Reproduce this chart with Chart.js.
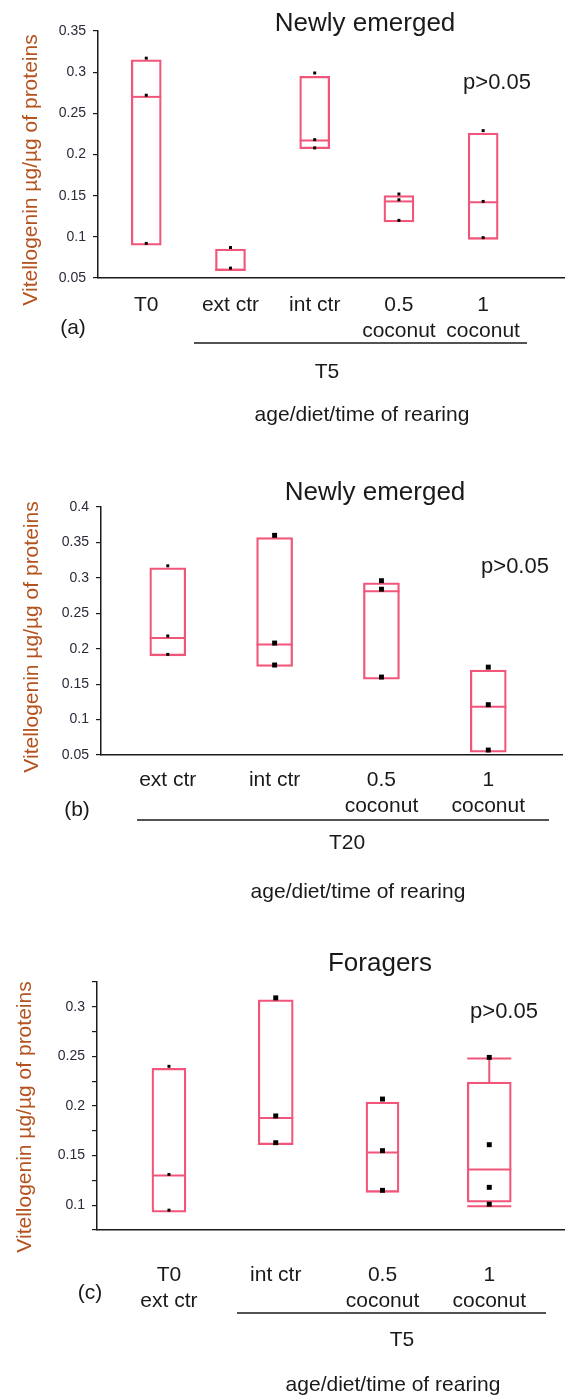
<!DOCTYPE html>
<html>
<head>
<meta charset="utf-8">
<script src="https://cdn.jsdelivr.net/npm/chart.js@4.4.0/dist/chart.umd.min.js"></script>
<style>
  body { margin: 0; background: #fff; }
  canvas { display: block; }
</style>
</head>
<body>
<canvas id="chartA" width="568" height="460"></canvas>
<canvas id="chartB" width="568" height="470"></canvas>
<canvas id="chartC" width="568" height="466"></canvas>
<script>
// ---- panel (a): newly emerged, T0 / T5 ----
const catsA = ['T0', 'ext ctr', 'int ctr', ['0.5', 'coconut'], ['1', 'coconut']];
const lowA = [0.090, 0.059, 0.207, 0.118, 0.097];
const highA = [0.315, 0.085, 0.295, 0.150, 0.226];
const medA = [0.270, 0.060, 0.217, 0.143, 0.142];
const ptsA = [[0.317, 0.272, 0.092], [0.087, 0.062], [0.299, 0.218, 0.208], [0.152, 0.145, 0.120], [0.229, 0.143, 0.099]];
const yTicksA = [0.05, 0.1, 0.15, 0.2, 0.25, 0.3, 0.35];
const yLabelsA = ['0.05', '0.1', '0.15', '0.2', '0.25', '0.3', '0.35'];

// ---- panel (b): newly emerged, T20 ----
const catsB = ['ext ctr', 'int ctr', ['0.5', 'coconut'], ['1', 'coconut']];
const lowB = [0.190, 0.175, 0.157, 0.054];
const highB = [0.314, 0.357, 0.293, 0.170];
const medB = [0.215, 0.206, 0.281, 0.118];
const ptsB = [[0.317, 0.218, 0.192], [0.360, 0.208, 0.177], [0.296, 0.284, 0.160], [0.174, 0.121, 0.057]];
const yTicksB = [0.05, 0.1, 0.15, 0.2, 0.25, 0.3, 0.35, 0.4];
const yLabelsB = ['0.05', '0.1', '0.15', '0.2', '0.25', '0.3', '0.35', '0.4'];

// ---- panel (c): foragers ----
const catsC = [['T0', 'ext ctr'], 'int ctr', ['0.5', 'coconut'], ['1', 'coconut']];
const lowC = [0.093, 0.161, 0.113, 0.103];
const highC = [0.238, 0.307, 0.204, 0.224];
const medC = [0.130, 0.188, 0.153, 0.136];
const whiskHiC = [null, null, null, 0.248];
const whiskLoC = [null, null, null, 0.099];
const ptsC = [[0.240, 0.131, 0.095], [0.309, 0.190, 0.163], [0.207, 0.155, 0.115], [0.249, 0.161, 0.118, 0.101]];
const yTicksC = [0.075, 0.1, 0.125, 0.15, 0.175, 0.2, 0.225, 0.25, 0.275, 0.3, 0.325];
const yLabelsC = ['', '0.1', '', '0.15', '', '0.2', '', '0.25', '', '0.3', ''];

const FONT = '"Liberation Sans", Arial, sans-serif';
const INK = '#1a1a1a';
const BOX_RED = '#f2557a';
const TITLE_BROWN = '#b4531f';
const Y_TITLE = 'Vitellogenin \u00b5g/\u00b5g of proteins';

function makePanel(id, p) {
    const n = p.labels.length;
    const datasets = [];

    // raw values as black squares
    const pts = [];
    p.points.forEach((vals, i) => vals.forEach(v => pts.push({ x: i + 1, y: v })));
    datasets.push({
        type: 'scatter',
        data: pts,
        order: 0,
        backgroundColor: '#000',
        borderWidth: 0,
        pointStyle: 'rect',
        pointRadius: ctx => ctx.raw ? p.pointR[ctx.raw.x - 1] : 3
    });

    // one box per group (floating bar from low to high)
    for (let i = 0; i < n; i++) {
        datasets.push({
            type: 'bar',
            order: 1,
            grouped: false,
            data: [{ x: i + 1, y: [p.low[i], p.high[i]] }],
            barThickness: p.boxW[i],
            backgroundColor: 'rgba(0,0,0,0)',
            borderColor: BOX_RED,
            borderWidth: 1.6,
            borderSkipped: false
        });
    }

    const extras = {
        id: 'extras',
        beforeDatasetsDraw(chart) {
            const ctx = chart.ctx;
            const y = chart.scales.y;
            ctx.save();
            ctx.strokeStyle = BOX_RED;
            ctx.lineWidth = 2;
            for (let i = 0; i < n; i++) {
                const el = chart.getDatasetMeta(i + 1).data[0];
                const x0 = el.x - el.width / 2, x1 = el.x + el.width / 2;
                const ym = y.getPixelForValue(p.median[i]);
                ctx.beginPath();
                ctx.moveTo(x0, ym);
                ctx.lineTo(x1, ym);
                ctx.stroke();
                // whiskers
                [[p.whiskHi, p.high], [p.whiskLo, p.low]].forEach(([w, edge]) => {
                    if (!w || w[i] == null) return;
                    const yw = y.getPixelForValue(w[i]);
                    const ye = y.getPixelForValue(edge[i]);
                    ctx.beginPath();
                    ctx.moveTo(el.x, ye);
                    ctx.lineTo(el.x, yw);
                    ctx.moveTo(x0, yw);
                    ctx.lineTo(x1, yw);
                    ctx.stroke();
                });
            }
            ctx.restore();
        },
        afterDraw(chart) {
            const ctx = chart.ctx;
            ctx.save();
            ctx.textAlign = 'center';
            ctx.textBaseline = 'middle';
            p.texts.forEach(t => {
                ctx.font = t.size + 'px ' + FONT;
                ctx.fillStyle = INK;
                ctx.fillText(t.t, t.x, t.y);
            });
            // bracket under the grouped categories
            ctx.strokeStyle = INK;
            ctx.lineWidth = 1.5;
            ctx.beginPath();
            ctx.moveTo(p.bracket[0], p.bracket[2]);
            ctx.lineTo(p.bracket[1], p.bracket[2]);
            ctx.stroke();
            // rotated y title
            ctx.translate(p.yTitle[0], p.yTitle[1]);
            ctx.rotate(-Math.PI / 2);
            ctx.font = '21px ' + FONT;
            ctx.fillStyle = TITLE_BROWN;
            ctx.fillText(Y_TITLE, 0, 0);
            ctx.restore();
        }
    };

    return new Chart(document.getElementById(id), {
        type: 'bar',
        data: { datasets: datasets },
        plugins: [extras],
        options: {
            responsive: false,
            animation: false,
            layout: { padding: { top: p.area.top, right: p.w - p.area.right, left: 0, bottom: 0 } },
            plugins: { legend: { display: false }, tooltip: { enabled: false } },
            scales: {
                x: {
                    type: 'linear',
                    min: p.xMin,
                    max: p.xMax,
                    offset: false,
                    grid: { display: false, drawTicks: false, offset: false },
                    border: { display: true, color: INK, width: 1.5 },
                    afterBuildTicks: axis => { axis.ticks = p.labels.map((_, i) => ({ value: i + 1 })); },
                    afterFit: s => { s.height = p.h - p.area.bottom; },
                    ticks: {
                        autoSkip: false,
                        maxRotation: 0,
                        padding: p.xPad,
                        color: INK,
                        font: { family: FONT, size: 21, lineHeight: 1.2 },
                        callback: (v, i) => p.labels[i]
                    }
                },
                y: {
                    min: p.yTicks[0],
                    max: p.yTicks[p.yTicks.length - 1],
                    afterBuildTicks: axis => { axis.ticks = p.yTicks.map(v => ({ value: v })); },
                    afterFit: s => { s.width = p.area.left; },
                    grid: { drawOnChartArea: false, drawTicks: true, tickLength: 5, color: INK, lineWidth: 1.2 },
                    border: { color: INK, width: 1.5 },
                    ticks: {
                        autoSkip: false,
                        padding: 7,
                        color: '#2a2a3a',
                        font: { family: FONT, size: 14 },
                        callback: (v, i) => p.yLabels[i]
                    }
                }
            }
        }
    });
}

makePanel('chartA', {
    labels: catsA, low: lowA, high: highA, median: medA, points: ptsA,
    yTicks: yTicksA, yLabels: yLabelsA,
    w: 568, h: 460,
    area: { left: 98, right: 564, top: 31, bottom: 278 },
    xMin: 0.427, xMax: 5.96, xPad: 15,
    boxW: [30, 30, 30, 30, 30],
    pointR: [2.1, 2.1, 2.1, 2.1, 2.1],
    bracket: [194, 527, 343],
    yTitle: [31, 170],
    texts: [
        { t: 'Newly emerged', x: 365, y: 24, size: 26 },
        { t: 'p>0.05', x: 497, y: 83, size: 22 },
        { t: '(a)', x: 73, y: 328, size: 21 },
        { t: 'T5', x: 327, y: 372, size: 21 },
        { t: 'age/diet/time of rearing', x: 362, y: 415, size: 21 }
    ]
});

makePanel('chartB', {
    labels: catsB, low: lowB, high: highB, median: medB, points: ptsB,
    yTicks: yTicksB, yLabels: yLabelsB,
    w: 568, h: 470,
    area: { left: 101, right: 562, top: 47, bottom: 295 },
    xMin: 0.375, xMax: 4.69, xPad: 13,
    boxW: [36, 36, 36, 36],
    pointR: [2.1, 3.5, 3.5, 3.5],
    bracket: [137, 549, 360],
    yTitle: [32, 177],
    texts: [
        { t: 'Newly emerged', x: 375, y: 33, size: 26 },
        { t: 'p>0.05', x: 515, y: 107, size: 22 },
        { t: '(b)', x: 77, y: 350, size: 21 },
        { t: 'T20', x: 347, y: 383, size: 21 },
        { t: 'age/diet/time of rearing', x: 358, y: 432, size: 21 }
    ]
});

makePanel('chartC', {
    labels: catsC, low: lowC, high: highC, median: medC, points: ptsC,
    whiskHi: whiskHiC, whiskLo: whiskLoC,
    yTicks: yTicksC, yLabels: yLabelsC,
    w: 568, h: 466,
    area: { left: 97, right: 568, top: 52, bottom: 300 },
    xMin: 0.326, xMax: 4.70, xPad: 33,
    boxW: [34, 35, 33, 44],
    pointR: [2.1, 3.5, 3.5, 3.5],
    bracket: [237, 546, 383],
    yTitle: [25, 187],
    texts: [
        { t: 'Foragers', x: 380, y: 34, size: 26 },
        { t: 'p>0.05', x: 504, y: 82, size: 22 },
        { t: '(c)', x: 90, y: 363, size: 21 },
        { t: 'T5', x: 402, y: 410, size: 21 },
        { t: 'age/diet/time of rearing', x: 393, y: 455, size: 21 }
    ]
});
</script>
</body>
</html>
